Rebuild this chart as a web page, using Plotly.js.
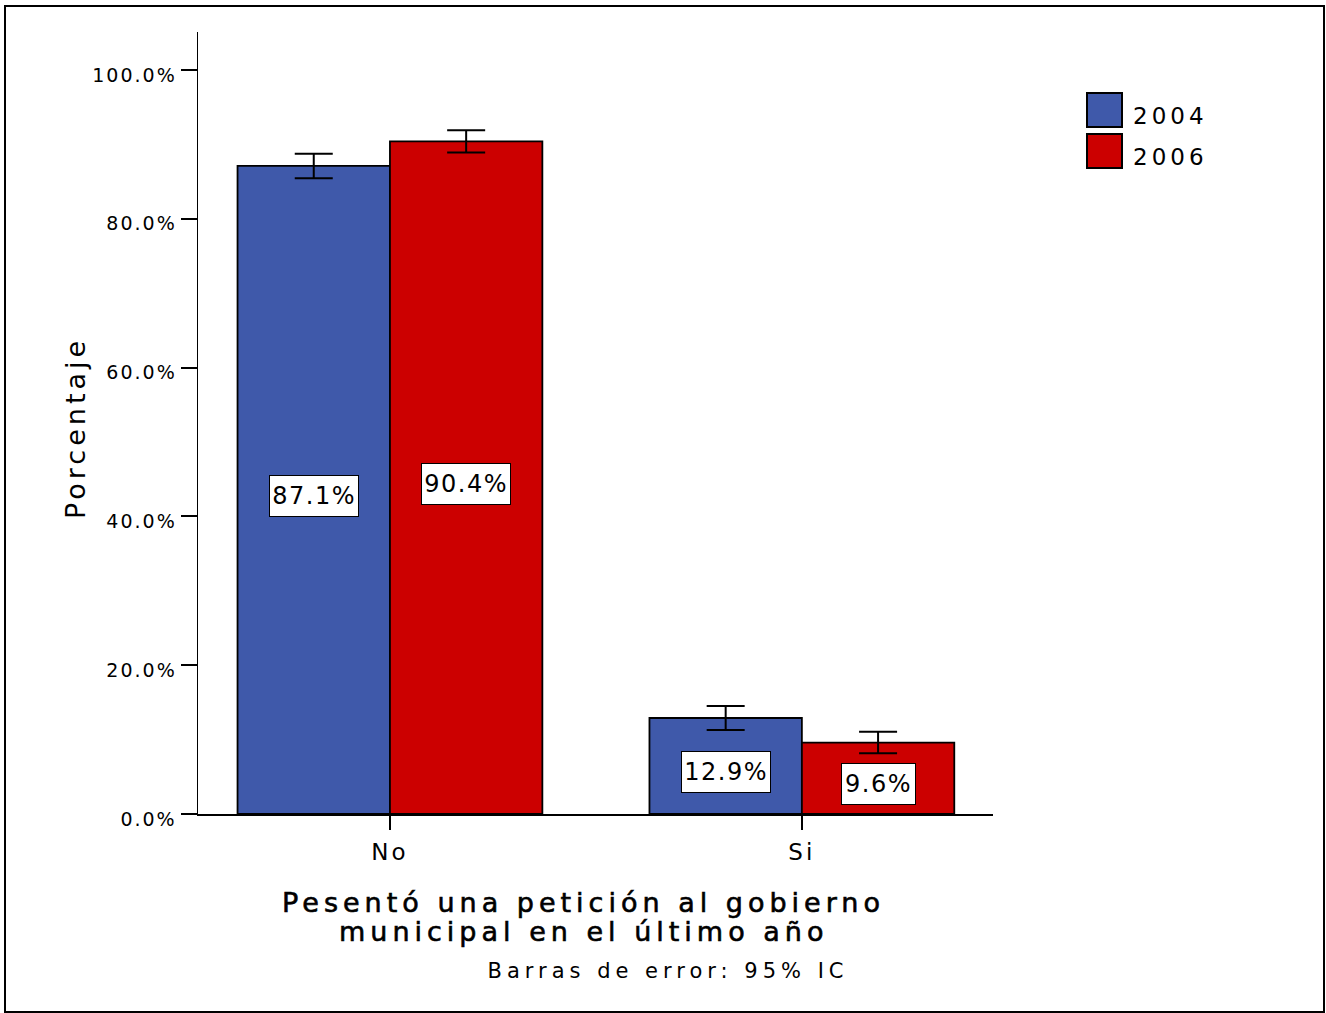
<!DOCTYPE html>
<html>
<head>
<meta charset="utf-8">
<script src="https://cdn.plot.ly/plotly-3.0.1.min.js"></script>
<style>
  html, body { margin: 0; padding: 0; background: #fff; }
  #chart { width: 1326px; height: 1013px; }
  .main-svg .ytick text { letter-spacing: 2px; }
  .main-svg .xtick text { letter-spacing: 3px; }
  .main-svg .annotation text { letter-spacing: 4px; }
  .main-svg .annotation[data-index="0"] text,
  .main-svg .annotation[data-index="1"] text,
  .main-svg .annotation[data-index="2"] text,
  .main-svg .annotation[data-index="3"] text { letter-spacing: 1.5px; }
  .main-svg .annotation[data-index="5"] text,
  .main-svg .annotation[data-index="6"] text { letter-spacing: 5px; }
  .main-svg .annotation[data-index="7"] text { letter-spacing: 5px; }
</style>
</head>
<body>
<div id="chart"></div>
<script>
// ---- data ----
const categories = ["No", "Si"];
const years = ["2004", "2006"];
const values2004 = [87.1, 12.9];
const values2006 = [90.4, 9.6];
const err2004 = [1.65, 1.6];
const err2006 = [1.5, 1.45];
const labels2004 = ["87.1%", "12.9%"];
const labels2006 = ["90.4%", "9.6%"];
const yTickVals = [0, 20, 40, 60, 80, 100];
const yTickText = ["0.0%", "20.0%", "40.0%", "60.0%", "80.0%", "100.0%"];
const xTitleLines = ["Pesentó una petición al gobierno", "municipal en el último año"];
const yTitle = "Porcentaje";
const footnote = "Barras de error: 95% IC";
const colors = ["#3f59aa", "#cc0000"];

const FONT = "DejaVu Sans, Verdana, sans-serif";
const bargap = 0.26;
const barW = (1 - bargap) / 2;

function barTrace(name, vals, errs, color) {
  return {
    type: "bar", name: name, x: categories, y: vals,
    marker: { color: color, line: { color: "#000", width: 1.8 } },
    error_y: { type: "data", array: errs, visible: true, color: "#000", thickness: 2, width: 19 },
    hoverinfo: "skip", showlegend: false
  };
}

const data = [
  barTrace(years[0], values2004, err2004, colors[0]),
  barTrace(years[1], values2006, err2006, colors[1])
];

const annotations = [];
function addLabels(vals, labs, offset) {
  vals.forEach((v, i) => {
    annotations.push({
      x: i + offset, y: v / 2, xref: "x", yref: "y", yshift: -6,
      text: labs[i], showarrow: false,
      font: { family: FONT, size: 24, color: "#000" },
      bgcolor: "#fff", bordercolor: "#000", borderwidth: 1, borderpad: 6
    });
  });
}
addLabels(values2004, labels2004, -barW / 2);   // 0,1
addLabels(values2006, labels2006, barW / 2);    // 2,3

// y title (4)
annotations.push({
  xref: "paper", yref: "paper", x: -0.1547, y: 0.4936, xanchor: "center", yanchor: "middle", textangle: -90,
  text: yTitle, showarrow: false,
  font: { family: FONT, size: 27, color: "#000" }
});
// x title lines (5,6)
const semi = s => '<span style="stroke:#000;stroke-width:0.6px">' + s + '</span>';
const xTitleY = [902, 931];
xTitleLines.forEach((ln, k) => {
  annotations.push({
    xref: "paper", yref: "paper", x: (583 - 198) / 795, y: (814 - xTitleY[k]) / 782,
    xanchor: "center", yanchor: "middle",
    text: semi(ln), showarrow: false,
    font: { family: FONT, size: 27, color: "#000" }
  });
});
// footnote (7)
annotations.push({
  xref: "paper", yref: "paper", x: (668 - 198) / 795, y: (814 - 971) / 782, xanchor: "center", yanchor: "middle",
  text: footnote, showarrow: false,
  font: { family: FONT, size: 21, color: "#000" }
});

// frame + legend (manual)
const shapes = [
  { type: "rect", xref: "paper", yref: "paper", xsizemode: "pixel", ysizemode: "pixel",
    xanchor: 0, yanchor: 0, x0: -193, x1: 1126, y0: -198, y1: 808,
    line: { color: "#000", width: 2 }, fillcolor: "rgba(0,0,0,0)" }
];
years.forEach((yr, k) => {
  const top = 814 - 93 - k * 41;
  shapes.push({ type: "rect", xref: "paper", yref: "paper", xsizemode: "pixel", ysizemode: "pixel",
    xanchor: 0, yanchor: 0, x0: 889, x1: 924, y0: top - 34, y1: top,
    line: { color: "#000", width: 2 }, fillcolor: colors[k] });
  annotations.push({
    xref: "paper", yref: "paper", x: (1139 - 198) / 795, y: (top - 23) / 782,
    xanchor: "left", yanchor: "middle", text: yr, showarrow: false,
    font: { family: FONT, size: 23, color: "#000" }
  });
});

const layout = {
  width: 1326, height: 1013,
  margin: { l: 198, r: 333, t: 32, b: 199 },
  paper_bgcolor: "#fff", plot_bgcolor: "#fff",
  barmode: "group", bargap: bargap, bargroupgap: 0,
  showlegend: false,
  xaxis: {
    type: "category", range: [-0.466, 1.464],
    showline: true, linecolor: "#000", linewidth: 1.5,
    ticks: "outside", ticklen: 14, tickwidth: 2, tickcolor: "#000",
    ticklabelstandoff: 3,
    tickfont: { family: FONT, size: 23, color: "#000" },
    showgrid: false, zeroline: false, fixedrange: true
  },
  yaxis: {
    range: [0, 105.1], tickmode: "array", tickvals: yTickVals, ticktext: yTickText,
    showline: true, linecolor: "#000", linewidth: 1.5,
    ticks: "outside", ticklen: 16, tickwidth: 2, tickcolor: "#000",
    ticklabelshift: 5,
    tickfont: { family: FONT, size: 19, color: "#000" },
    showgrid: false, zeroline: false, fixedrange: true
  },
  annotations: annotations,
  shapes: shapes
};

Plotly.newPlot("chart", data, layout, { displayModeBar: false, staticPlot: true });
</script>
</body>
</html>
